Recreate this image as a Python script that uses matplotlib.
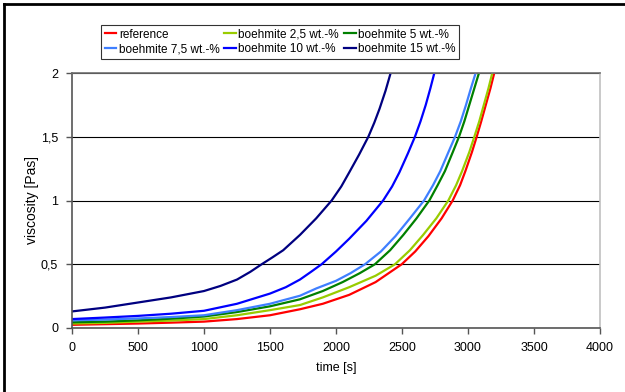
import matplotlib
matplotlib.use("Agg")
import matplotlib.pyplot as plt
from matplotlib.lines import Line2D
from matplotlib.ticker import FuncFormatter

plt.rcParams['font.family'] = ['Liberation Sans', 'DejaVu Sans']
plt.rcParams['font.size'] = 9

# viscosity curves (time [s], viscosity [Pas])
t_ref = [0, 250, 500, 750, 1000, 1250, 1500, 1727, 1900, 2100, 2300, 2498, 2600, 2700,
         2800, 2884, 2940, 2980, 3030, 3066, 3100, 3135, 3170, 3199, 3215]
v_ref = [0.025, 0.03, 0.035, 0.042, 0.05, 0.07, 0.10, 0.147, 0.19, 0.26, 0.36, 0.5, 0.6, 0.72,
         0.86, 1.0, 1.12, 1.23, 1.38, 1.5, 1.62, 1.75, 1.88, 2.0, 2.1]

t_b25 = [0, 250, 500, 750, 1000, 1250, 1500, 1727, 1900, 2100, 2300, 2447, 2560, 2660,
         2760, 2851, 2910, 2955, 3010, 3048, 3085, 3120, 3155, 3184, 3200]
v_b25 = [0.035, 0.04, 0.05, 0.058, 0.07, 0.10, 0.14, 0.18, 0.24, 0.32, 0.41, 0.5, 0.61, 0.73,
         0.86, 1.0, 1.12, 1.23, 1.38, 1.5, 1.62, 1.75, 1.88, 2.0, 2.1]

t_b5 = [0, 250, 500, 750, 1000, 1250, 1500, 1727, 1900, 2050, 2180, 2295, 2410, 2510,
        2610, 2707, 2770, 2825, 2885, 2932, 2972, 3010, 3048, 3083, 3100]
v_b5 = [0.045, 0.05, 0.06, 0.073, 0.09, 0.125, 0.17, 0.225, 0.29, 0.36, 0.43, 0.5, 0.61, 0.73,
        0.86, 1.0, 1.12, 1.23, 1.38, 1.5, 1.62, 1.75, 1.88, 2.0, 2.1]

t_b75 = [0, 250, 500, 750, 1000, 1250, 1500, 1727, 1850, 2000, 2110, 2220, 2340, 2450,
         2560, 2667, 2735, 2790, 2852, 2902, 2945, 2985, 3022, 3058, 3075]
v_b75 = [0.06, 0.066, 0.075, 0.086, 0.10, 0.14, 0.19, 0.253, 0.31, 0.37, 0.43, 0.5, 0.6, 0.72,
         0.86, 1.0, 1.12, 1.23, 1.38, 1.5, 1.62, 1.75, 1.88, 2.0, 2.1]

t_b10 = [0, 250, 500, 750, 1000, 1250, 1500, 1620, 1727, 1810, 1891, 2000, 2100, 2230,
         2357, 2425, 2480, 2545, 2598, 2640, 2680, 2715, 2745, 2760]
v_b10 = [0.07, 0.082, 0.095, 0.112, 0.135, 0.19, 0.27, 0.32, 0.38, 0.44, 0.5, 0.6, 0.7, 0.84,
         1.0, 1.11, 1.22, 1.37, 1.5, 1.62, 1.75, 1.88, 2.0, 2.1]

t_b15 = [0, 250, 500, 750, 1000, 1125, 1250, 1350, 1437, 1520, 1600, 1727, 1850, 1967,
         2040, 2100, 2175, 2245, 2290, 2330, 2375, 2414, 2430]
v_b15 = [0.13, 0.16, 0.20, 0.24, 0.29, 0.33, 0.38, 0.44, 0.5, 0.555, 0.61, 0.73, 0.86, 1.0,
         1.11, 1.22, 1.36, 1.5, 1.61, 1.72, 1.86, 2.0, 2.1]

labels = ['reference', 'boehmite 2,5 wt.-%', 'boehmite 5 wt.-%',
          'boehmite 7,5 wt.-%', 'boehmite 10 wt.-%', 'boehmite 15 wt.-%']
colors = ['#ff0000', '#99cc00', '#008000', '#3f7fff', '#0000ff', '#000080']
series = [(t_ref, v_ref), (t_b25, v_b25), (t_b5, v_b5),
          (t_b75, v_b75), (t_b10, v_b10), (t_b15, v_b15)]

fig = plt.figure(figsize=(6.25, 3.92), dpi=100)
ax = fig.add_axes([72/625, 1 - 328/392, 528/625, 255/392])

handles = []
for (t, v), c, lab in zip(series, colors, labels):
    h, = ax.plot(t, v, color=c, lw=1.6, label=lab)
    handles.append(h)

ax.set_xlim(0, 4000)
ax.set_ylim(0, 2)
ax.set_xticks(range(0, 4001, 500))
ax.set_yticks([0, 0.5, 1, 1.5, 2])
ax.yaxis.set_major_formatter(FuncFormatter(lambda y, p: ('%g' % y).replace('.', ',')))
ax.yaxis.grid(True, color='black', lw=0.8)
ax.set_axisbelow(True)
ax.tick_params(direction='out', length=4, width=1, color='#555555', pad=6)

for s in ['left', 'bottom']:
    ax.spines[s].set_color('#555555')
    ax.spines[s].set_linewidth(1.2)
ax.spines['right'].set_color('#c0c0c0')
ax.spines['right'].set_linewidth(1.2)
ax.spines['top'].set_color('#707070')
ax.spines['top'].set_linewidth(1.2)

ax.set_xlabel('time [s]', labelpad=6)
ax.set_ylabel('viscosity [Pas]', labelpad=1, fontsize=10)

# legend filled row by row like the original
order = [0, 3, 1, 4, 2, 5]
leg = fig.legend([handles[i] for i in order], [labels[i] for i in order],
                 ncol=3, loc='center', bbox_to_anchor=(280/625, 1 - 42/392),
                 frameon=True, fancybox=False, edgecolor='black',
                 handlelength=1.0, handletextpad=0.2, columnspacing=0.4,
                 labelspacing=0.25, borderpad=0.3, fontsize=8.5)
leg.get_frame().set_linewidth(0.8)

# outer chart border, only its left and top edges are inside the picture
fig.add_artist(Line2D([4/625, 4/625], [0, 1 - 4/392], transform=fig.transFigure, color='black', lw=2))
fig.add_artist(Line2D([4/625, 1], [1 - 4/392, 1 - 4/392], transform=fig.transFigure, color='black', lw=2))

fig.savefig('out.png', dpi=100)
